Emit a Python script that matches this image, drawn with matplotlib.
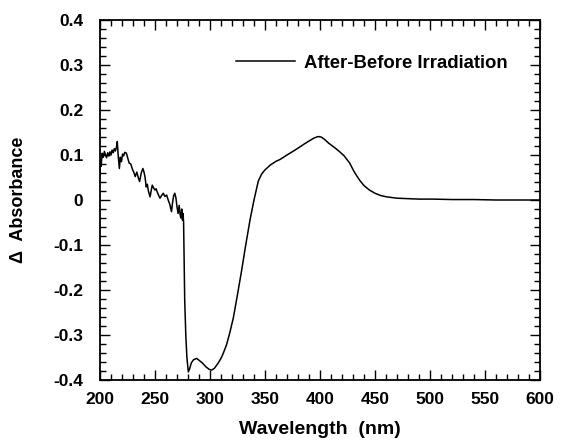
import numpy as np
import matplotlib.pyplot as plt
from matplotlib.ticker import MultipleLocator

# difference spectrum (10 points per row)
wavelength = [200, 200.5, 201, 202, 203, 204, 205, 206, 207, 208,
              209, 210, 211, 212, 213, 214, 215, 215.7, 216.5, 217.6,
              218.5, 219.5, 220.5, 221.5, 222.5, 224, 225, 226.5, 228, 229.5,
              231, 232, 233.5, 235, 236, 237.5, 239, 240, 241, 242,
              243, 244, 245.5, 246.5, 247.5, 248.5, 250, 251, 252, 253,
              254.5, 256, 257.5, 259, 260.6, 262, 263.5, 265, 266, 267,
              268, 269, 270, 271, 272, 272.7, 273.5, 274.3, 275, 275.5,
              276, 276.4, 277, 278, 279, 280.3, 281.5, 283, 285, 287.9,
              290, 293, 296, 299, 301.5, 304, 307, 310, 312, 315,
              318, 321.2, 325, 328.8, 332, 334.8, 336.4, 340, 343.9, 347,
              350, 355, 360, 363.6, 370, 376, 381.8, 386, 390, 394,
              397, 398.5, 401, 404, 408, 413, 418, 422, 427, 431,
              436, 440, 445, 450, 455, 460.6, 470, 480, 490, 503,
              520, 540, 560, 580, 600]
delta_abs = [0.055, 0.09, 0.075, 0.104, 0.095, 0.108, 0.1, 0.094, 0.105, 0.098,
             0.107, 0.1, 0.111, 0.105, 0.114, 0.109, 0.118, 0.13, 0.1, 0.07,
             0.095, 0.085, 0.102, 0.098, 0.106, 0.104, 0.095, 0.082, 0.08, 0.068,
             0.06, 0.052, 0.062, 0.048, 0.041, 0.06, 0.07, 0.062, 0.05, 0.029,
             0.035, 0.02, 0.007, 0.02, 0.033, 0.028, 0.022, 0.025, 0.018, 0.012,
             0.004, 0.01, 0.015, 0.008, 0.011, 0.0, -0.01, -0.026, -0.005, 0.01,
             0.015, 0.005, -0.015, -0.03, -0.012, -0.03, -0.04, -0.02, -0.045, -0.03,
             -0.05, -0.12, -0.222, -0.3, -0.35, -0.382, -0.375, -0.362, -0.355, -0.352,
             -0.356, -0.362, -0.37, -0.376, -0.378, -0.374, -0.364, -0.352, -0.341, -0.322,
             -0.295, -0.262, -0.21, -0.156, -0.107, -0.067, -0.044, 0.0, 0.042, 0.058,
             0.067, 0.078, 0.086, 0.09, 0.1, 0.109, 0.118, 0.125, 0.131, 0.137,
             0.14, 0.141, 0.14, 0.135, 0.126, 0.117, 0.107, 0.098, 0.082, 0.063,
             0.044, 0.032, 0.022, 0.015, 0.01, 0.007, 0.004, 0.003, 0.002, 0.002,
             0.001, 0.001, 0.0, 0.0, 0.0]
series_label = "After-Before Irradiation"

plt.rcParams['font.family'] = ['Liberation Sans', 'DejaVu Sans']

fig = plt.figure(figsize=(5.64, 4.45), dpi=100)
ax = fig.add_axes([100 / 564, 65 / 445, 440 / 564, 360 / 445])

ax.plot(wavelength, delta_abs, color='black', linewidth=1.1, label=series_label)

ax.set_xlim(200, 600)
ax.set_ylim(-0.4, 0.4)
ax.xaxis.set_major_locator(MultipleLocator(50))
ax.xaxis.set_minor_locator(MultipleLocator(10))
ax.yaxis.set_minor_locator(MultipleLocator(0.02))
ax.set_yticks(np.arange(-0.4, 0.41, 0.1))
ax.set_yticklabels(['-0.4', '-0.3', '-0.2', '-0.1', '0', '0.1', '0.2', '0.3', '0.4'])
ax.tick_params(which='both', direction='in', top=True, right=True, width=1.0)
ax.tick_params(which='major', length=7, labelsize=12.5)
ax.tick_params(axis='x', which='major', pad=9)
ax.tick_params(axis='y', which='major', pad=12)
ax.tick_params(which='minor', length=4)
for lbl in ax.get_xticklabels() + ax.get_yticklabels():
    lbl.set_fontweight('bold')
for sp in ax.spines.values():
    sp.set_linewidth(1.3)

ax.set_xlabel("Wavelength  (nm)", fontsize=14, fontweight='bold', labelpad=10)
ax.set_ylabel("\u0394  Absorbance", fontsize=13, fontweight='bold', labelpad=19)

ax.legend(loc='upper right', bbox_to_anchor=(0.965, 0.95), frameon=False,
          handlelength=3.2, handletextpad=0.5, prop={'size': 13.3, 'weight': 'bold'})

fig.savefig("out.png", dpi=100)
